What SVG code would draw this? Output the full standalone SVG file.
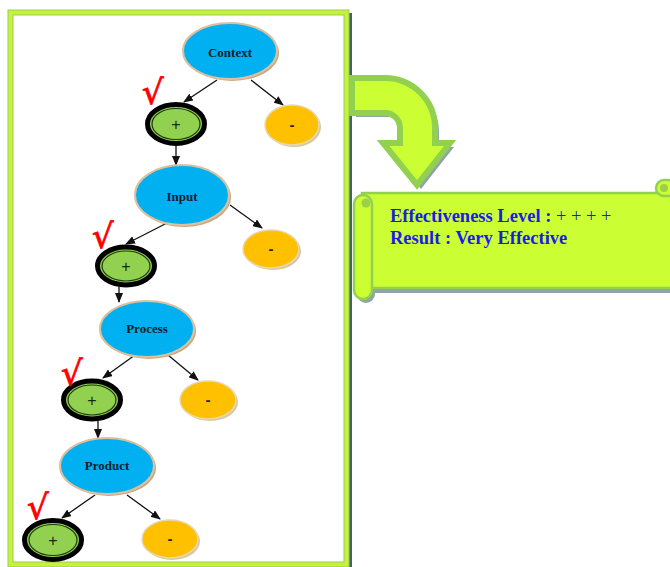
<svg xmlns="http://www.w3.org/2000/svg" width="670" height="567" viewBox="0 0 670 567">
<style>
.blue{fill:#00b0f0;stroke:#dcc0a0;stroke-width:2}
.bsh{fill:#c8a882}
.lbl{font-family:"Liberation Serif",serif;font-weight:bold;font-size:13px;fill:#10202e;text-anchor:middle}
.plus-o{fill:#92d050;stroke:#000;stroke-width:5}
.plus-i{fill:none;stroke:#1e3a10;stroke-width:1.2}
.sym{font-family:"Liberation Sans",sans-serif;font-size:16px;fill:#1a2a10;text-anchor:middle}
.minus{fill:#ffc000;stroke:#e8d8b0;stroke-width:1.5}
.msh{fill:#d8c8a0}
.msym{font-family:"Liberation Sans",sans-serif;font-weight:bold;font-size:15px;fill:#222;text-anchor:middle}
.chk{font-family:"DejaVu Sans",sans-serif;font-size:34px;fill:#ff0000;stroke:#ff0000;stroke-width:0.8}
.edge{stroke:#111;stroke-width:1.3;fill:none;marker-end:url(#ah)}
.res{font-family:"Liberation Serif",serif;font-weight:bold;font-size:18.5px;fill:#1a1aee}
</style>
<defs>
<marker id="ah" markerWidth="10" markerHeight="8" refX="9" refY="4" orient="auto" markerUnits="userSpaceOnUse">
<path d="M0,0 L10,4 L0,8 Z" fill="#111"/>
</marker>
</defs>
<rect width="670" height="567" fill="#fff"/>
<g id="frame">
<rect x="348" y="13" width="4" height="554" fill="#3d6470"/>
<rect x="10.5" y="12.5" width="336" height="552" fill="#fff" stroke="#c5f23a" stroke-width="5"/>
<rect x="8" y="10" width="341" height="557" fill="none" stroke="#9acd50" stroke-width="1"/>
<rect x="13" y="15" width="331" height="547" fill="none" stroke="#9acd50" stroke-width="1"/>
</g>
<g id="connectors">
<line class="edge" x1="217" y1="80" x2="184" y2="102"/>
<line class="edge" x1="251" y1="80" x2="283" y2="105"/>
<line class="edge" x1="176" y1="146" x2="176" y2="165"/>
<line class="edge" x1="167" y1="223" x2="126" y2="244"/>
<line class="edge" x1="230" y1="205" x2="262" y2="228"/>
<line class="edge" x1="119" y1="287" x2="119" y2="302"/>
<line class="edge" x1="135" y1="355" x2="103" y2="378"/>
<line class="edge" x1="168" y1="355" x2="198" y2="380"/>
<line class="edge" x1="98" y1="421" x2="98" y2="438"/>
<line class="edge" x1="95" y1="495" x2="62" y2="518"/>
<line class="edge" x1="127" y1="495" x2="160" y2="519"/>
</g>
<g id="context">
<ellipse class="bsh" cx="232" cy="53" rx="47" ry="28"/>
<ellipse class="blue" cx="230" cy="51" rx="47" ry="28"/>
<text class="lbl" x="230" y="57">Context</text>
</g>
<g id="input">
<ellipse class="bsh" cx="184" cy="197" rx="47" ry="30"/>
<ellipse class="blue" cx="182" cy="195" rx="47" ry="30"/>
<text class="lbl" x="182" y="201">Input</text>
</g>
<g id="process">
<ellipse class="bsh" cx="149" cy="331" rx="47" ry="28"/>
<ellipse class="blue" cx="147" cy="329" rx="47" ry="28"/>
<text class="lbl" x="147" y="333">Process</text>
</g>
<g id="product">
<ellipse class="bsh" cx="109" cy="468" rx="47" ry="28"/>
<ellipse class="blue" cx="107" cy="466" rx="47" ry="28"/>
<text class="lbl" x="107" y="470">Product</text>
</g>
<g id="plus1">
<ellipse class="plus-o" cx="176" cy="124" rx="28.5" ry="19.5"/>
<ellipse class="plus-i" cx="176" cy="124" rx="24" ry="15.5"/>
<text class="sym" x="176" y="130">+</text>
<text class="chk" x="142" y="104">√</text>
</g>
<g id="plus2">
<ellipse class="plus-o" cx="126" cy="266" rx="28.5" ry="19"/>
<ellipse class="plus-i" cx="126" cy="266" rx="24" ry="15"/>
<text class="sym" x="126" y="272">+</text>
<text class="chk" x="92" y="248">√</text>
</g>
<g id="plus3">
<ellipse class="plus-o" cx="92" cy="400" rx="28.5" ry="19"/>
<ellipse class="plus-i" cx="92" cy="400" rx="24" ry="15"/>
<text class="sym" x="92" y="406">+</text>
<text class="chk" x="61" y="385">√</text>
</g>
<g id="plus4">
<ellipse class="plus-o" cx="53" cy="540" rx="28.5" ry="19.5"/>
<ellipse class="plus-i" cx="53" cy="540" rx="24" ry="15.5"/>
<text class="sym" x="53" y="546">+</text>
<text class="chk" x="27" y="519">√</text>
</g>
<g id="minus1">
<ellipse class="msh" cx="294" cy="127" rx="27" ry="20"/>
<ellipse class="minus" cx="292" cy="125" rx="27" ry="20"/>
<text class="msym" x="292" y="130">-</text>
</g>
<g id="minus2">
<ellipse class="msh" cx="273" cy="251" rx="28" ry="19"/>
<ellipse class="minus" cx="271" cy="249" rx="28" ry="19"/>
<text class="msym" x="271" y="254">-</text>
</g>
<g id="minus3">
<ellipse class="msh" cx="210" cy="402" rx="28" ry="19"/>
<ellipse class="minus" cx="208" cy="400" rx="28" ry="19"/>
<text class="msym" x="208" y="405">-</text>
</g>
<g id="minus4">
<ellipse class="msh" cx="172" cy="541" rx="28" ry="19"/>
<ellipse class="minus" cx="170" cy="539" rx="28" ry="19"/>
<text class="msym" x="170" y="544">-</text>
</g>
<g id="bent-arrow">
<path d="M356,82 L389,82 A50,50 0 0 1 439,132 L439,147 L454,147 L421,189 L387,147 L404,147 L404,132 A15,15 0 0 0 389,117 L356,117 Z" fill="#8fa3a8"/>
<path d="M352,78 L385,78 A50,50 0 0 1 435,128 L435,143 L450,143 L417,185 L383,143 L400,143 L400,128 A15,15 0 0 0 385,113 L352,113 Z" fill="#ccff33" stroke="#92d050" stroke-width="6" stroke-linejoin="miter"/>
</g>
<g id="result">
<rect x="360" y="198" width="312" height="95" fill="#8fa3a8"/>
<rect x="357" y="199" width="18" height="104" rx="9" fill="#8fa3a8"/>
<rect x="362" y="193" width="312" height="95" fill="#ccff33" stroke="#92d050" stroke-width="2.5"/>
<rect x="656" y="180" width="20" height="16" rx="8" fill="#ccff33" stroke="#92d050" stroke-width="2.5"/>
<circle cx="664" cy="188" r="4" fill="#9cd04a"/>
<rect x="354" y="195" width="18" height="104" rx="9" fill="#ccff33" stroke="#92d050" stroke-width="2.5"/>
<circle cx="366" cy="203" r="4.5" fill="#9cd04a"/>
<text class="res" x="390" y="222">Effectiveness Level : <tspan font-weight="normal">+ + + +</tspan></text>
<text class="res" x="390" y="244">Result : Very Effective</text>
</g>
</svg>
